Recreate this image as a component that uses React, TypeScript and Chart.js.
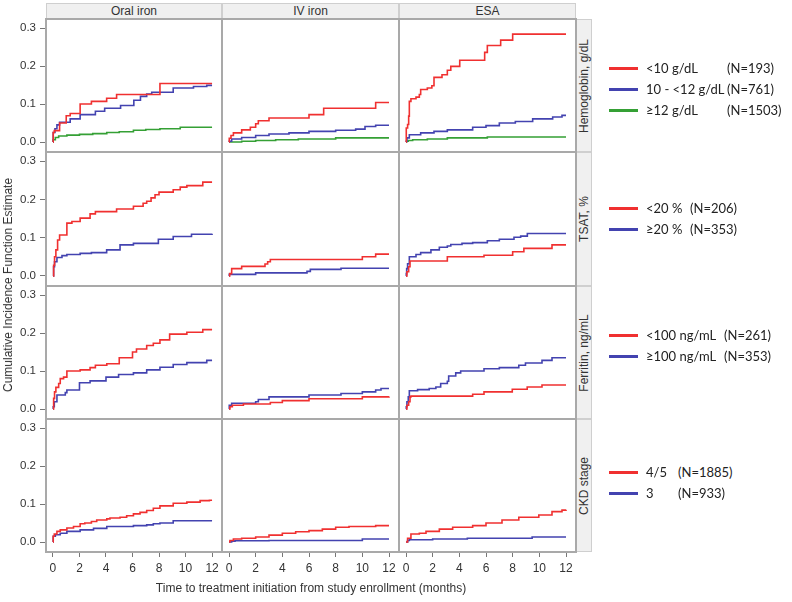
import React, { useEffect, useRef } from "react";
import { Chart, registerables } from "chart.js";

Chart.register(...registerables);

// ---------- labels ----------
const colLabels = ["Oral iron", "IV iron", "ESA"];
const rowLabels = ["Hemoglobin, g/dL", "TSAT, %", "Ferritin, ng/mL", "CKD stage"];
const xTickValues = [0, 2, 4, 6, 8, 10, 12];
const yTickValues = [0, 0.1, 0.2, 0.3];
const xTitle = "Time to treatment initiation from study enrollment (months)";
const yTitle = "Cumulative Incidence Function Estimate";

const legendLabels = [
  ["<10 g/dL", "10 - <12 g/dL", "\u226512 g/dL"],
  ["<20 %", "\u226520 %"],
  ["<100 ng/mL", "\u2265100 ng/mL"],
  ["4/5", "3"],
];
const legendCounts = [
  ["(N=193)", "(N=761)", "(N=1503)"],
  ["(N=206)", "(N=353)"],
  ["(N=261)", "(N=353)"],
  ["(N=1885)", "(N=933)"],
];

// ---------- data: [month, cumulative incidence] step points ----------
const hgbOralLt10 = [[0, 0], [0.02, 0.025], [0.1, 0.03], [0.5, 0.05], [1.0, 0.069], [1.3, 0.075], [2.05, 0.1], [2.9, 0.107], [4.05, 0.115], [4.8, 0.125], [8.07, 0.154], [12, 0.154]];
const hgbOral10to12 = [[0, 0], [0.02, 0.025], [0.15, 0.035], [0.3, 0.045], [0.5, 0.052], [1.3, 0.061], [2.05, 0.072], [3.2, 0.081], [3.9, 0.089], [5.1, 0.096], [6.1, 0.11], [6.6, 0.12], [7.07, 0.126], [7.45, 0.131], [9.07, 0.142], [10.6, 0.146], [11.6, 0.149], [12, 0.149]];
const hgbOralGe12 = [[0, 0], [0.02, 0.006], [0.18, 0.012], [0.43, 0.016], [1.05, 0.018], [2.0, 0.02], [3.0, 0.022], [4.06, 0.025], [5.0, 0.027], [6.07, 0.031], [7.0, 0.033], [8.07, 0.035], [9.6, 0.039], [12, 0.039]];

const hgbIvLt10 = [[0, 0], [0.02, 0.01], [0.15, 0.017], [0.33, 0.024], [0.95, 0.032], [1.6, 0.039], [2.0, 0.048], [2.2, 0.056], [3.0, 0.063], [6.0, 0.072], [7.1, 0.089], [11.0, 0.104], [12, 0.104]];
const hgbIv10to12 = [[0, 0], [0.02, 0.002], [0.2, 0.008], [0.95, 0.012], [2.0, 0.017], [3.0, 0.021], [4.5, 0.024], [6.0, 0.028], [8.0, 0.031], [9.5, 0.034], [10.2, 0.041], [11.0, 0.044], [12, 0.044]];
const hgbIvGe12 = [[0, 0], [0.95, 0.002], [2.0, 0.004], [3.5, 0.006], [5.2, 0.008], [8.0, 0.011], [12, 0.011]];

const hgbEsaLt10 = [[0, 0], [0.02, 0.037], [0.12, 0.046], [0.2, 0.068], [0.25, 0.107], [0.37, 0.114], [0.75, 0.118], [1.0, 0.125], [1.1, 0.138], [1.6, 0.142], [1.94, 0.148], [2.1, 0.17], [2.7, 0.177], [3.1, 0.189], [3.36, 0.199], [4.03, 0.215], [5.9, 0.236], [6.1, 0.254], [7.1, 0.268], [8.0, 0.284], [12, 0.284]];
const hgbEsa10to12 = [[0, 0], [0.02, 0.002], [0.07, 0.011], [0.25, 0.019], [1.1, 0.024], [2.1, 0.028], [3.1, 0.032], [5.0, 0.039], [6.0, 0.043], [7.0, 0.05], [8.2, 0.054], [9.5, 0.061], [11.0, 0.066], [11.7, 0.07], [12, 0.07]];
const hgbEsaGe12 = [[0, 0], [0.05, 0.002], [0.17, 0.004], [0.5, 0.006], [1.6, 0.008], [3.1, 0.011], [6.1, 0.013], [12, 0.013]];

const tsatOralLt20 = [[0, 0], [0.05, 0.028], [0.12, 0.05], [0.22, 0.068], [0.35, 0.094], [0.5, 0.107], [1.05, 0.138], [1.43, 0.142], [2.05, 0.151], [2.8, 0.162], [3.2, 0.168], [4.8, 0.175], [6.07, 0.182], [6.8, 0.19], [7.07, 0.195], [7.4, 0.204], [7.7, 0.212], [8.0, 0.219], [9.07, 0.225], [9.6, 0.232], [10.1, 0.236], [11.3, 0.245], [12, 0.245]];
const tsatOralGe20 = [[0, 0], [0.05, 0.024], [0.12, 0.037], [0.3, 0.048], [0.68, 0.053], [1.05, 0.056], [2.05, 0.059], [2.9, 0.061], [4.05, 0.068], [5.06, 0.081], [6.07, 0.085], [7.95, 0.096], [9.07, 0.103], [10.45, 0.109], [12, 0.11]];
const tsatIvLt20 = [[0, 0], [0.05, 0.006], [0.2, 0.019], [0.95, 0.025], [2.7, 0.031], [2.9, 0.037], [3.1, 0.043], [10.0, 0.05], [11.0, 0.057], [12, 0.057]];
const tsatIvGe20 = [[0, 0], [0.02, 0.004], [2.0, 0.008], [5.85, 0.012], [6.1, 0.017], [8.4, 0.02], [12, 0.02]];
const tsatEsaLt20 = [[0, 0], [0.07, 0.011], [0.2, 0.024], [0.3, 0.039], [3.1, 0.05], [5.85, 0.054], [8.0, 0.063], [8.84, 0.072], [10.95, 0.081], [12, 0.081]];
const tsatEsaGe20 = [[0, 0], [0.02, 0.006], [0.05, 0.019], [0.12, 0.032], [0.25, 0.05], [0.75, 0.056], [1.1, 0.061], [1.87, 0.068], [2.5, 0.075], [3.1, 0.078], [3.36, 0.082], [4.2, 0.085], [5.0, 0.087], [6.1, 0.092], [7.0, 0.096], [8.1, 0.101], [8.6, 0.104], [9.1, 0.111], [12, 0.111]];

const ferOralLt100 = [[0, 0], [0.05, 0.028], [0.12, 0.045], [0.22, 0.057], [0.43, 0.067], [0.55, 0.08], [0.8, 0.084], [1.05, 0.1], [2.05, 0.103], [2.8, 0.109], [3.2, 0.115], [4.06, 0.119], [5.0, 0.135], [6.0, 0.15], [6.3, 0.158], [7.07, 0.167], [7.57, 0.173], [8.07, 0.182], [8.8, 0.197], [10.1, 0.202], [11.3, 0.209], [12, 0.209]];
const ferOralGe100 = [[0, 0], [0.02, 0.006], [0.1, 0.019], [0.3, 0.037], [0.93, 0.043], [1.05, 0.05], [2.0, 0.069], [2.8, 0.074], [4.0, 0.084], [4.95, 0.091], [6.07, 0.095], [7.07, 0.103], [8.07, 0.11], [9.07, 0.117], [10.1, 0.122], [11.6, 0.128], [12, 0.128]];
const ferIvLt100 = [[0, 0], [0.07, 0.006], [0.25, 0.01], [1.08, 0.013], [3.1, 0.017], [4.0, 0.022], [6.0, 0.027], [10.0, 0.032], [12, 0.033]];
const ferIvGe100 = [[0, 0], [0.02, 0.01], [0.2, 0.015], [2.0, 0.019], [2.2, 0.025], [3.0, 0.032], [6.0, 0.037], [8.4, 0.041], [10.0, 0.045], [11.0, 0.05], [11.4, 0.054], [12, 0.054]];
const ferEsaLt100 = [[0, 0], [0.07, 0.01], [0.2, 0.019], [0.3, 0.032], [0.37, 0.034], [5.0, 0.039], [5.85, 0.045], [7.97, 0.052], [9.09, 0.058], [10.2, 0.063], [12, 0.063]];
const ferEsaGe100 = [[0, 0], [0.02, 0.006], [0.07, 0.019], [0.17, 0.032], [0.25, 0.048], [0.87, 0.051], [1.74, 0.054], [2.24, 0.058], [2.6, 0.067], [3.1, 0.073], [3.2, 0.087], [3.73, 0.095], [4.1, 0.1], [5.85, 0.106], [7.0, 0.109], [8.46, 0.115], [8.96, 0.121], [10.2, 0.128], [10.95, 0.135], [12, 0.135]];

const ckdOral45 = [[0, 0], [0.02, 0.015], [0.1, 0.021], [0.3, 0.028], [0.55, 0.032], [1.05, 0.037], [1.55, 0.041], [2.05, 0.048], [2.4, 0.05], [2.9, 0.054], [3.3, 0.058], [4.06, 0.061], [4.3, 0.063], [5.06, 0.065], [5.56, 0.069], [6.07, 0.074], [6.57, 0.078], [7.07, 0.083], [7.57, 0.089], [8.07, 0.095], [9.07, 0.102], [10.1, 0.105], [11.1, 0.109], [11.8, 0.11], [12, 0.11]];
const ckdOral3 = [[0, 0], [0.02, 0.015], [0.18, 0.019], [0.55, 0.023], [1.05, 0.028], [2.05, 0.032], [3.06, 0.036], [4.06, 0.041], [6.07, 0.043], [7.07, 0.045], [7.57, 0.048], [8.07, 0.05], [9.07, 0.056], [12, 0.056]];
const ckdIv45 = [[0, 0], [0.07, 0.004], [0.33, 0.008], [0.95, 0.01], [2.0, 0.013], [3.0, 0.018], [4.0, 0.023], [5.0, 0.027], [6.0, 0.03], [7.0, 0.034], [8.0, 0.039], [9.0, 0.041], [11.0, 0.043], [12, 0.043]];
const ckdIv3 = [[0, 0], [0.2, 0.002], [0.45, 0.0035], [3.0, 0.004], [10.0, 0.008], [12, 0.008]];
const ckdEsa45 = [[0, 0], [0.12, 0.01], [0.37, 0.021], [1.0, 0.023], [1.5, 0.028], [2.5, 0.034], [3.5, 0.039], [5.0, 0.043], [6.0, 0.05], [7.2, 0.058], [8.46, 0.065], [9.96, 0.071], [10.95, 0.08], [11.7, 0.084], [12, 0.085]];
const ckdEsa3 = [[0, 0], [0.12, 0.004], [0.25, 0.006], [2.0, 0.008], [4.6, 0.01], [9.46, 0.013], [12, 0.013]];

const panelSeries = [
  [[hgbOralLt10, hgbOral10to12, hgbOralGe12], [hgbIvLt10, hgbIv10to12, hgbIvGe12], [hgbEsaLt10, hgbEsa10to12, hgbEsaGe12]],
  [[tsatOralLt20, tsatOralGe20], [tsatIvLt20, tsatIvGe20], [tsatEsaLt20, tsatEsaGe20]],
  [[ferOralLt100, ferOralGe100], [ferIvLt100, ferIvGe100], [ferEsaLt100, ferEsaGe100]],
  [[ckdOral45, ckdOral3], [ckdIv45, ckdIv3], [ckdEsa45, ckdEsa3]],
];

// ---------- styles / layout ----------
const seriesColors = ["#f03030", "#4343b0", "#35a035"];
const COL_L = [46, 222, 399];
const COL_R = [222, 399, 576];
const ROW_T = [19, 152, 286, 419];
const ROW_B = [152, 286, 419, 552];
const X_MIN = -0.525;
const X_MAX = 12.75;
const Y_MIN = -0.0263;
const Y_MAX = 0.3237;
const legendY = [[68, 89, 110], [208, 229], [335, 356], [472, 493]];
const legendNX = [727, 690, 724, 678];
const TICK_FONT = "'Liberation Sans', Arial, sans-serif";
const LEGEND_FONT = "Lato, 'Open Sans', sans-serif";

const borderPlugin = {
  id: "panelBorder",
  afterDraw(chart: any) {
    const { ctx, chartArea } = chart;
    ctx.save();
    ctx.strokeStyle = "#a9a9a9";
    ctx.lineWidth = 2;
    ctx.strokeRect(chartArea.left, chartArea.top, chartArea.right - chartArea.left, chartArea.bottom - chartArea.top);
    ctx.restore();
  },
};

function canvasRect(r: number, c: number) {
  const left = c === 0 ? 0 : COL_L[c] - 2;
  const right = COL_R[c] + 2;
  const top = ROW_T[r] - 2;
  const bottom = r === 3 ? ROW_B[r] + 30 : ROW_B[r] + 2;
  return { left, top, width: right - left, height: bottom - top };
}

function makeConfig(r: number, c: number): any {
  const series = panelSeries[r][c];
  const showY = c === 0;
  const showX = r === 3;
  return {
    type: "line",
    data: {
      datasets: series.map((pts, i) => ({
        data: pts.map(([x, y]) => ({ x, y })),
        borderColor: seriesColors[i],
        borderWidth: 1.6,
        pointRadius: 0,
        stepped: true,
        fill: false,
      })),
    },
    options: {
      animation: false,
      responsive: false,
      devicePixelRatio: 1,
      layout: { padding: { left: showY ? 0 : 2, right: 2, top: 2, bottom: showX ? 0 : 2 } },
      plugins: { legend: { display: false }, tooltip: { enabled: false } },
      scales: {
        x: {
          type: "linear",
          min: X_MIN,
          max: X_MAX,
          display: showX,
          afterBuildTicks: (s: any) => {
            s.ticks = xTickValues.map((v) => ({ value: v }));
          },
          afterFit: (s: any) => {
            if (showX) s.height = 30;
            s.paddingLeft = 0;
            s.paddingRight = 0;
          },
          grid: { drawOnChartArea: false, drawTicks: true, tickLength: 5, color: "#777" },
          border: { display: false },
          ticks: {
            padding: 4,
            color: "#333",
            font: { family: TICK_FONT, size: 12 },
            maxRotation: 0,
            callback: (v: any) => String(v),
          },
        },
        y: {
          type: "linear",
          min: Y_MIN,
          max: Y_MAX,
          display: showY,
          afterBuildTicks: (s: any) => {
            s.ticks = yTickValues.map((v) => ({ value: v }));
          },
          afterFit: (s: any) => {
            if (showY) s.width = 46;
            s.paddingTop = 0;
            s.paddingBottom = 0;
          },
          grid: { drawOnChartArea: false, drawTicks: true, tickLength: 6, color: "#777" },
          border: { display: false },
          ticks: {
            padding: 4,
            color: "#333",
            font: { family: TICK_FONT, size: 11.5 },
            callback: (v: any) => Number(v).toFixed(1),
          },
        },
      },
    },
    plugins: [borderPlugin],
  };
}

export default function App() {
  const refs = useRef<(HTMLCanvasElement | null)[]>([]);

  useEffect(() => {
    const charts: Chart[] = [];
    for (let r = 0; r < 4; r++) {
      for (let c = 0; c < 3; c++) {
        const cv = refs.current[r * 3 + c];
        if (cv) charts.push(new Chart(cv, makeConfig(r, c)));
      }
    }
    return () => charts.forEach((ch) => ch.destroy());
  }, []);

  const panels = [];
  for (let r = 0; r < 4; r++) {
    for (let c = 0; c < 3; c++) {
      const rect = canvasRect(r, c);
      panels.push(
        <canvas
          key={`p${r}${c}`}
          ref={(el) => {
            refs.current[r * 3 + c] = el;
          }}
          width={rect.width}
          height={rect.height}
          style={{ position: "absolute", left: rect.left, top: rect.top, width: rect.width, height: rect.height }}
        />
      );
    }
  }

  const txt: React.CSSProperties = { fontFamily: TICK_FONT, fontSize: 12, color: "#333", whiteSpace: "nowrap" };
  const legTxt: React.CSSProperties = {
    position: "absolute",
    transform: "translateY(-50%)",
    fontFamily: LEGEND_FONT,
    fontSize: 13,
    color: "#222",
    whiteSpace: "nowrap",
    lineHeight: "16px",
  };

  return (
    <div style={{ position: "fixed", left: 0, top: 0, width: 792, height: 602, background: "#fff", overflow: "hidden" }}>
      {colLabels.map((lab, c) => (
        <div
          key={`h${c}`}
          style={{
            ...txt,
            position: "absolute",
            left: COL_L[c],
            top: 3,
            width: COL_R[c] - COL_L[c],
            height: 16,
            boxSizing: "border-box",
            border: "1px solid #cfcfcf",
            borderBottom: "none",
            background: "#f0f0f0",
            textAlign: "center",
            lineHeight: "15px",
          }}
        >
          {lab}
        </div>
      ))}
      {rowLabels.map((lab, r) => (
        <div
          key={`s${r}`}
          style={{
            position: "absolute",
            left: 577,
            top: ROW_T[r],
            width: 15,
            height: ROW_B[r] - ROW_T[r],
            boxSizing: "border-box",
            border: "1px solid #cfcfcf",
            borderLeft: "none",
            background: "#f0f0f0",
          }}
        >
          <div
            style={{
              ...txt,
              position: "absolute",
              left: "50%",
              top: "50%",
              transform: "translate(-50%, -50%) rotate(-90deg)",
              lineHeight: "14px",
            }}
          >
            {lab}
          </div>
        </div>
      ))}
      {panels}
      <div
        style={{
          ...txt,
          position: "absolute",
          left: 8,
          top: 285,
          transform: "translate(-50%, -50%) rotate(-90deg)",
          lineHeight: "14px",
        }}
      >
        {yTitle}
      </div>
      <div
        style={{
          ...txt,
          position: "absolute",
          left: 311,
          top: 588,
          transform: "translate(-50%, -50%)",
          lineHeight: "14px",
        }}
      >
        {xTitle}
      </div>
      {legendLabels.map((labs, r) =>
        labs.map((lab, i) => (
          <React.Fragment key={`l${r}${i}`}>
            <div
              style={{
                position: "absolute",
                left: 609,
                top: legendY[r][i] - 1,
                width: 29,
                height: 2.5,
                background: seriesColors[i],
              }}
            />
            <div style={{ ...legTxt, left: 646, top: legendY[r][i] }}>{lab}</div>
            <div style={{ ...legTxt, left: legendNX[r], top: legendY[r][i] }}>{legendCounts[r][i]}</div>
          </React.Fragment>
        ))
      )}
    </div>
  );
}
